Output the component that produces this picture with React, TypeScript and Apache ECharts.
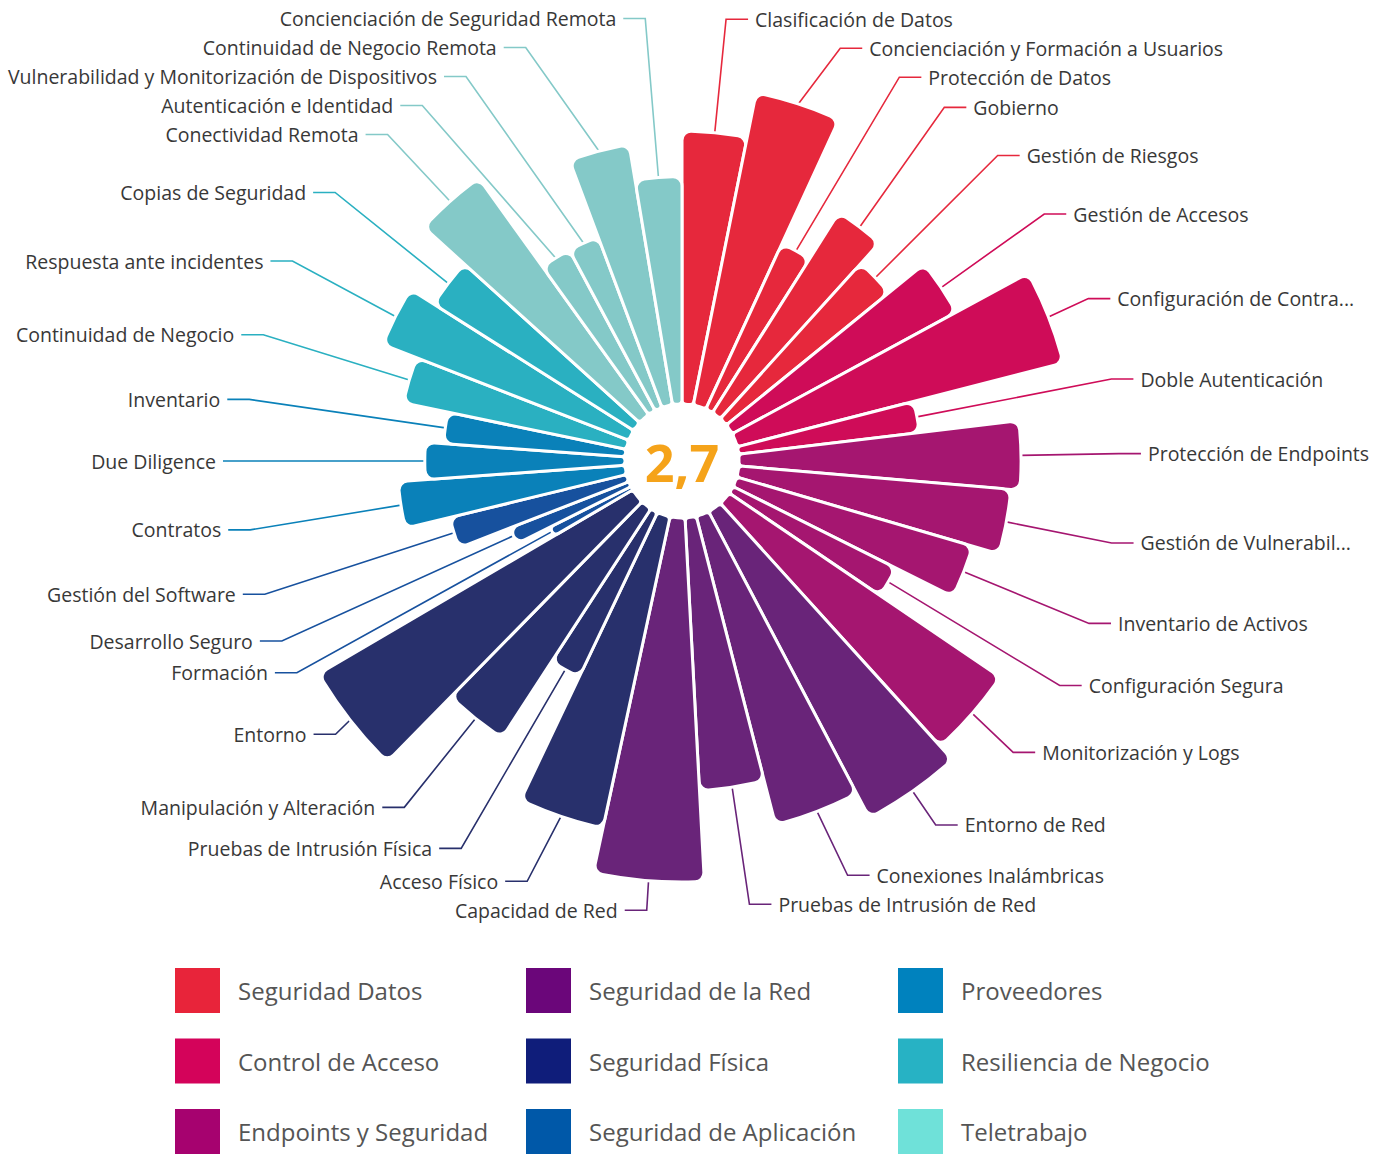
import React, { useEffect, useRef } from 'react';
import * as echarts from 'echarts';

// ---- data ----
const groups = [
  'Seguridad Datos',
  'Control de Acceso',
  'Endpoints y Seguridad',
  'Seguridad de la Red',
  'Seguridad Física',
  'Seguridad de Aplicación',
  'Proveedores',
  'Resiliencia de Negocio',
  'Teletrabajo',
];

const categories = [
  'Clasificación de Datos',
  'Concienciación y Formación a Usuarios',
  'Protección de Datos',
  'Gobierno',
  'Gestión de Riesgos',
  'Gestión de Accesos',
  'Configuración de Contra...',
  'Doble Autenticación',
  'Protección de Endpoints',
  'Gestión de Vulnerabil...',
  'Inventario de Activos',
  'Configuración Segura',
  'Monitorización y Logs',
  'Entorno de Red',
  'Conexiones Inalámbricas',
  'Pruebas de Intrusión de Red',
  'Capacidad de Red',
  'Acceso Físico',
  'Pruebas de Intrusión Física',
  'Manipulación y Alteración',
  'Entorno',
  'Formación',
  'Desarrollo Seguro',
  'Gestión del Software',
  'Contratos',
  'Due Diligence',
  'Inventario',
  'Continuidad de Negocio',
  'Respuesta ante incidentes',
  'Copias de Seguridad',
  'Conectividad Remota',
  'Autenticación e Identidad',
  'Vulnerabilidad y Monitorización de Dispositivos',
  'Continuidad de Negocio Remota',
  'Concienciación de Seguridad Remota',
];

const categoryGroup = [
  0, 0, 0, 0, 0,
  1, 1, 1,
  2, 2, 2, 2, 2,
  3, 3, 3, 3,
  4, 4, 4, 4,
  5, 5, 5,
  6, 6, 6,
  7, 7, 7,
  8, 8, 8, 8, 8,
];

const values = [
  3.0, 3.5, 2.0, 2.6, 2.3,
  2.8, 3.7, 2.0,
  3.1, 3.0, 2.7, 2.0, 3.6,
  3.8, 3.5, 3.0, 4.0,
  3.5, 2.0, 3.0, 4.0,
  1.0, 1.4, 2.0,
  2.5, 2.2, 2.0,
  2.5, 2.9, 2.6,
  3.2, 2.0, 2.0, 2.9, 2.5,
];

const centerValue = '2,7';

const barColors = [
  '#e6283c', '#cf0c58', '#a51670', '#692479', '#28306c',
  '#17519e', '#0a81b9', '#2ab0c1', '#84c9c8',
];

const legendColors = [
  '#e8243a', '#d4035a', '#a6026f', '#6b067a', '#0f1d7a',
  '#0058a8', '#0082be', '#27b2c4', '#6fe1d9',
];

const legendColumns = [
  [0, 1, 2],
  [3, 4, 5],
  [6, 7, 8],
];

// ---- layout ----
const W = 1394;
const H = 1156;
const CX = 682;
const CY = 461;
const R0 = 57;
const R1 = 421;
const FONT = 'Open Sans';
const legendLefts = [175, 526, 898];

export default function App() {
  const ref = useRef<HTMLDivElement>(null);

  useEffect(() => {
    document.body.style.margin = '0';
    if (!ref.current) return;
    const chart = echarts.init(ref.current, null, { renderer: 'svg' });

    const option: any = {
      animation: false,
      backgroundColor: '#ffffff',
      legend: legendColumns.map((col, i) => ({
        orient: 'vertical',
        left: legendLefts[i],
        top: 968,
        padding: 0,
        itemWidth: 45,
        itemHeight: 45,
        itemGap: 25.5,
        icon: 'rect',
        selectedMode: false,
        textStyle: {
          fontSize: 24,
          color: '#555555',
          fontFamily: FONT,
          padding: [0, 0, 0, 13],
        },
        data: col.map((g) => ({
          name: groups[g],
          itemStyle: { color: legendColors[g] },
        })),
      })),
      graphic: [
        {
          type: 'text',
          x: CX,
          y: CY,
          silent: true,
          style: {
            text: centerValue,
            align: 'center',
            verticalAlign: 'middle',
            fontSize: 52,
            fontWeight: 'bold',
            fontFamily: FONT,
            fill: '#f5a31a',
          },
        },
      ],
      series: [
        {
          type: 'pie',
          roseType: 'radius',
          center: [CX, CY],
          radius: [R0, R1],
          startAngle: 90,
          clockwise: true,
          silent: true,
          avoidLabelOverlap: true,
          itemStyle: {
            borderColor: '#ffffff',
            borderWidth: 3,
            borderRadius: [4, 9],
          },
          label: {
            show: true,
            position: 'outside',
            formatter: '{b}',
            color: '#383838',
            fontSize: 19.5,
            fontFamily: FONT,
            lineHeight: 27,
            overflow: 'none',
            distanceToLabelLine: 7,
          },
          labelLine: {
            show: true,
            length: 23,
            length2: 22,
            smooth: false,
            lineStyle: { width: 1.6 },
          },
          emphasis: { disabled: true },
          data: categories.map((name, i) => ({
            name,
            value: values[i],
            itemStyle: { color: barColors[categoryGroup[i]] },
          })),
        },
        {
          type: 'pie',
          name: 'grupos',
          center: [CX, CY],
          radius: [0, 0],
          silent: true,
          label: { show: false },
          labelLine: { show: false },
          emphasis: { disabled: true },
          data: groups.map((g, i) => ({
            name: g,
            value: 1,
            itemStyle: { color: legendColors[i] },
          })),
        },
      ],
    };

    chart.setOption(option);
    return () => chart.dispose();
  }, []);

  return <div ref={ref} style={{ width: W, height: H }} />;
}
